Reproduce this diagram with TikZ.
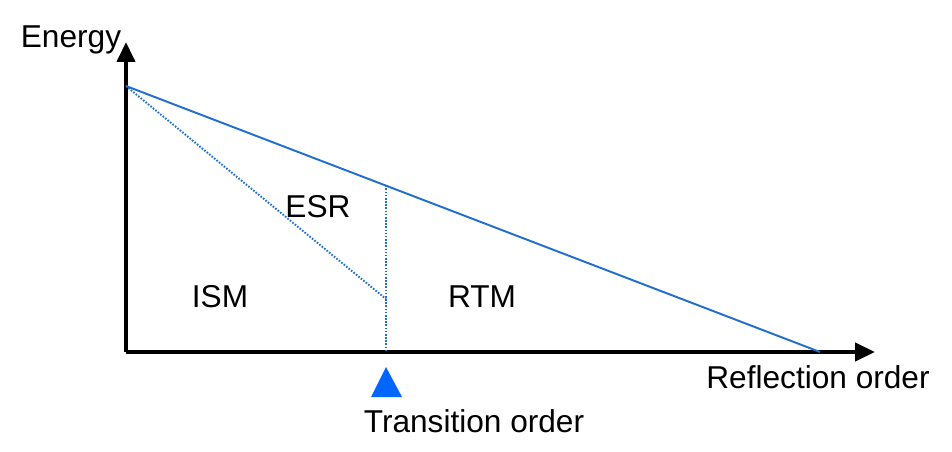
\documentclass[tikz,border=0pt]{standalone}
\usepackage{fontspec}
\setmainfont{Liberation Sans}
\usetikzlibrary{positioning,calc,arrows.meta}
\definecolor{lineblue}{RGB}{32,110,205}
\definecolor{markblue}{RGB}{0,102,255}

\begin{document}
\begin{tikzpicture}[
        x=0.02cm, y=-0.02cm,
        every node/.style={font=\fontsize{18}{20}\selectfont, inner sep=0pt},
        axis/.style={-{Triangle[length=4mm, width=3.6mm]}, line width=2.3pt, draw=black},
        energy/.style={draw=lineblue, line width=1.1pt},
        split/.style={draw=lineblue, line width=1.1pt, dash pattern=on 0.9pt off 0.9pt},
        label/.style={anchor=base},
    ]

        \useasboundingbox (0,0) rectangle (952,452);

        % axes
        \coordinate (origin) at (126,352);
        \coordinate (ytip) at (126,42);
        \coordinate (xtip) at (875,352);
        \draw[axis] (origin) -- (ytip);
        \draw[axis] (origin) -- (xtip);

        % energy decay lines
        \coordinate (start) at (126,86);
        \coordinate (stop) at (820,352);
        \coordinate (cross) at (386,185.3);
        \coordinate (foot) at (386,352);
        \coordinate (esrend) at (386,299);
        \draw[energy] (start) -- (stop);
        \draw[split] (start) -- (esrend);
        \draw[split] (cross) -- (foot);

        % transition marker
        \coordinate (tapex) at (386,367);
        \coordinate (tleft) at (371,397);
        \coordinate (tright) at (402,397);
        \fill[markblue] (tapex) -- (tright) -- (tleft) -- cycle;

        % labels
        \node[label] (energylbl) at (71,48) {Energy};
        \node[label] (esr) at (318,218) {ESR};
        \node[label] (ism) at (220,307) {ISM};
        \node[label] (rtm) at (482,307) {RTM};
        \node[label] (transition) at (474,432) {Transition order};
        \node[label] (reflection) at (818,388) {Reflection order};

    \end{tikzpicture}
\end{document}
